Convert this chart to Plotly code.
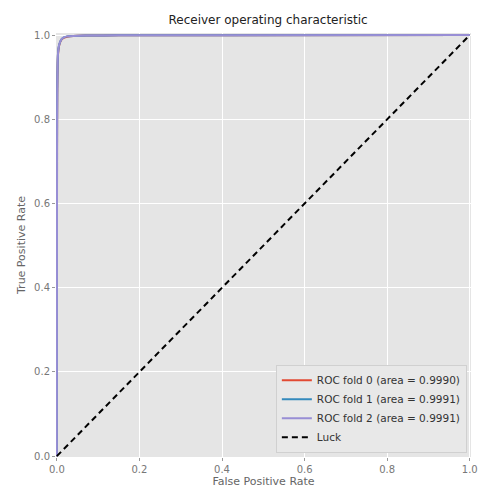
import plotly.graph_objects as go

fpr0 = [0.0, 0.0005, 0.001, 0.002, 0.003, 0.005, 0.008, 0.012, 0.018, 0.025, 0.04, 0.07, 0.15, 0.4, 1.0]
tpr0 = [0.0, 0.70, 0.86, 0.93, 0.955, 0.972, 0.983, 0.990, 0.994, 0.996, 0.998, 0.999, 0.9995, 0.9998, 1.0]
fpr1 = [0.0, 0.0005, 0.001, 0.002, 0.003, 0.005, 0.008, 0.012, 0.018, 0.025, 0.04, 0.07, 0.15, 0.4, 1.0]
tpr1 = [0.0, 0.72, 0.87, 0.935, 0.958, 0.974, 0.984, 0.991, 0.995, 0.997, 0.998, 0.999, 0.9995, 0.9998, 1.0]
fpr2 = [0.0, 0.0005, 0.001, 0.002, 0.003, 0.005, 0.008, 0.012, 0.018, 0.025, 0.04, 0.07, 0.15, 0.4, 1.0]
tpr2 = [0.0, 0.72, 0.87, 0.935, 0.958, 0.974, 0.984, 0.991, 0.995, 0.997, 0.998, 0.999, 0.9995, 0.9998, 1.0]
luck_x = [0.0, 1.0]
luck_y = [0.0, 1.0]
names = ["ROC fold 0 (area = 0.9990)", "ROC fold 1 (area = 0.9991)", "ROC fold 2 (area = 0.9991)", "Luck"]
colors = ["#E24A33", "#348ABD", "#988ED5"]
ticks = [0.0, 0.2, 0.4, 0.6, 0.8, 1.0]
tick_text = ["0.0", "0.2", "0.4", "0.6", "0.8", "1.0"]

fig = go.Figure()
for fx, ty, nm, c in zip([fpr0, fpr1, fpr2], [tpr0, tpr1, tpr2], names[:3], colors):
    fig.add_trace(go.Scatter(x=fx, y=ty, mode="lines", name=nm, line=dict(color=c, width=2, shape="spline", smoothing=0.6)))
fig.add_trace(go.Scatter(x=luck_x, y=luck_y, mode="lines", name=names[3], line=dict(color="black", width=2, dash="6px,4px")))

axis_common = dict(
    tickvals=ticks, ticktext=tick_text, showgrid=True, gridcolor="white", gridwidth=1,
    zeroline=False, showline=False, ticks="outside", ticklen=3, tickcolor="#999999",
    ticklabeloverflow="allow",
    tickfont=dict(family="DejaVu Sans", size=10, color="#777777"),
)
fig.update_layout(
    width=483, height=496,
    margin=dict(l=56, r=5, t=33, b=39),
    paper_bgcolor="white", plot_bgcolor="#E5E5E5",
    title=dict(text="Receiver operating characteristic", x=0.555, xanchor="center", y=0.96, yanchor="middle",
               font=dict(family="DejaVu Sans", size=12, color="#222222")),
    xaxis=dict(axis_common, range=[-0.002, 1.003], title=dict(text="False Positive Rate", standoff=0,
               font=dict(family="DejaVu Sans", size=11, color="#666666"))),
    yaxis=dict(axis_common, range=[-0.002, 1.005], title=dict(text="True Positive Rate", standoff=6,
               font=dict(family="DejaVu Sans", size=11, color="#666666"))),
    legend=dict(x=0.99, y=0.01, xanchor="right", yanchor="bottom", bgcolor="#E8E8E8",
                bordercolor="#D0D0D0", borderwidth=1, itemwidth=30,
                font=dict(family="DejaVu Sans", size=10.5, color="#333333"), tracegroupgap=0),
    showlegend=True,
)
fig.write_html("out.html", config={"displayModeBar": False},
               post_script="document.body.style.margin='0';document.body.style.overflow='hidden';")
